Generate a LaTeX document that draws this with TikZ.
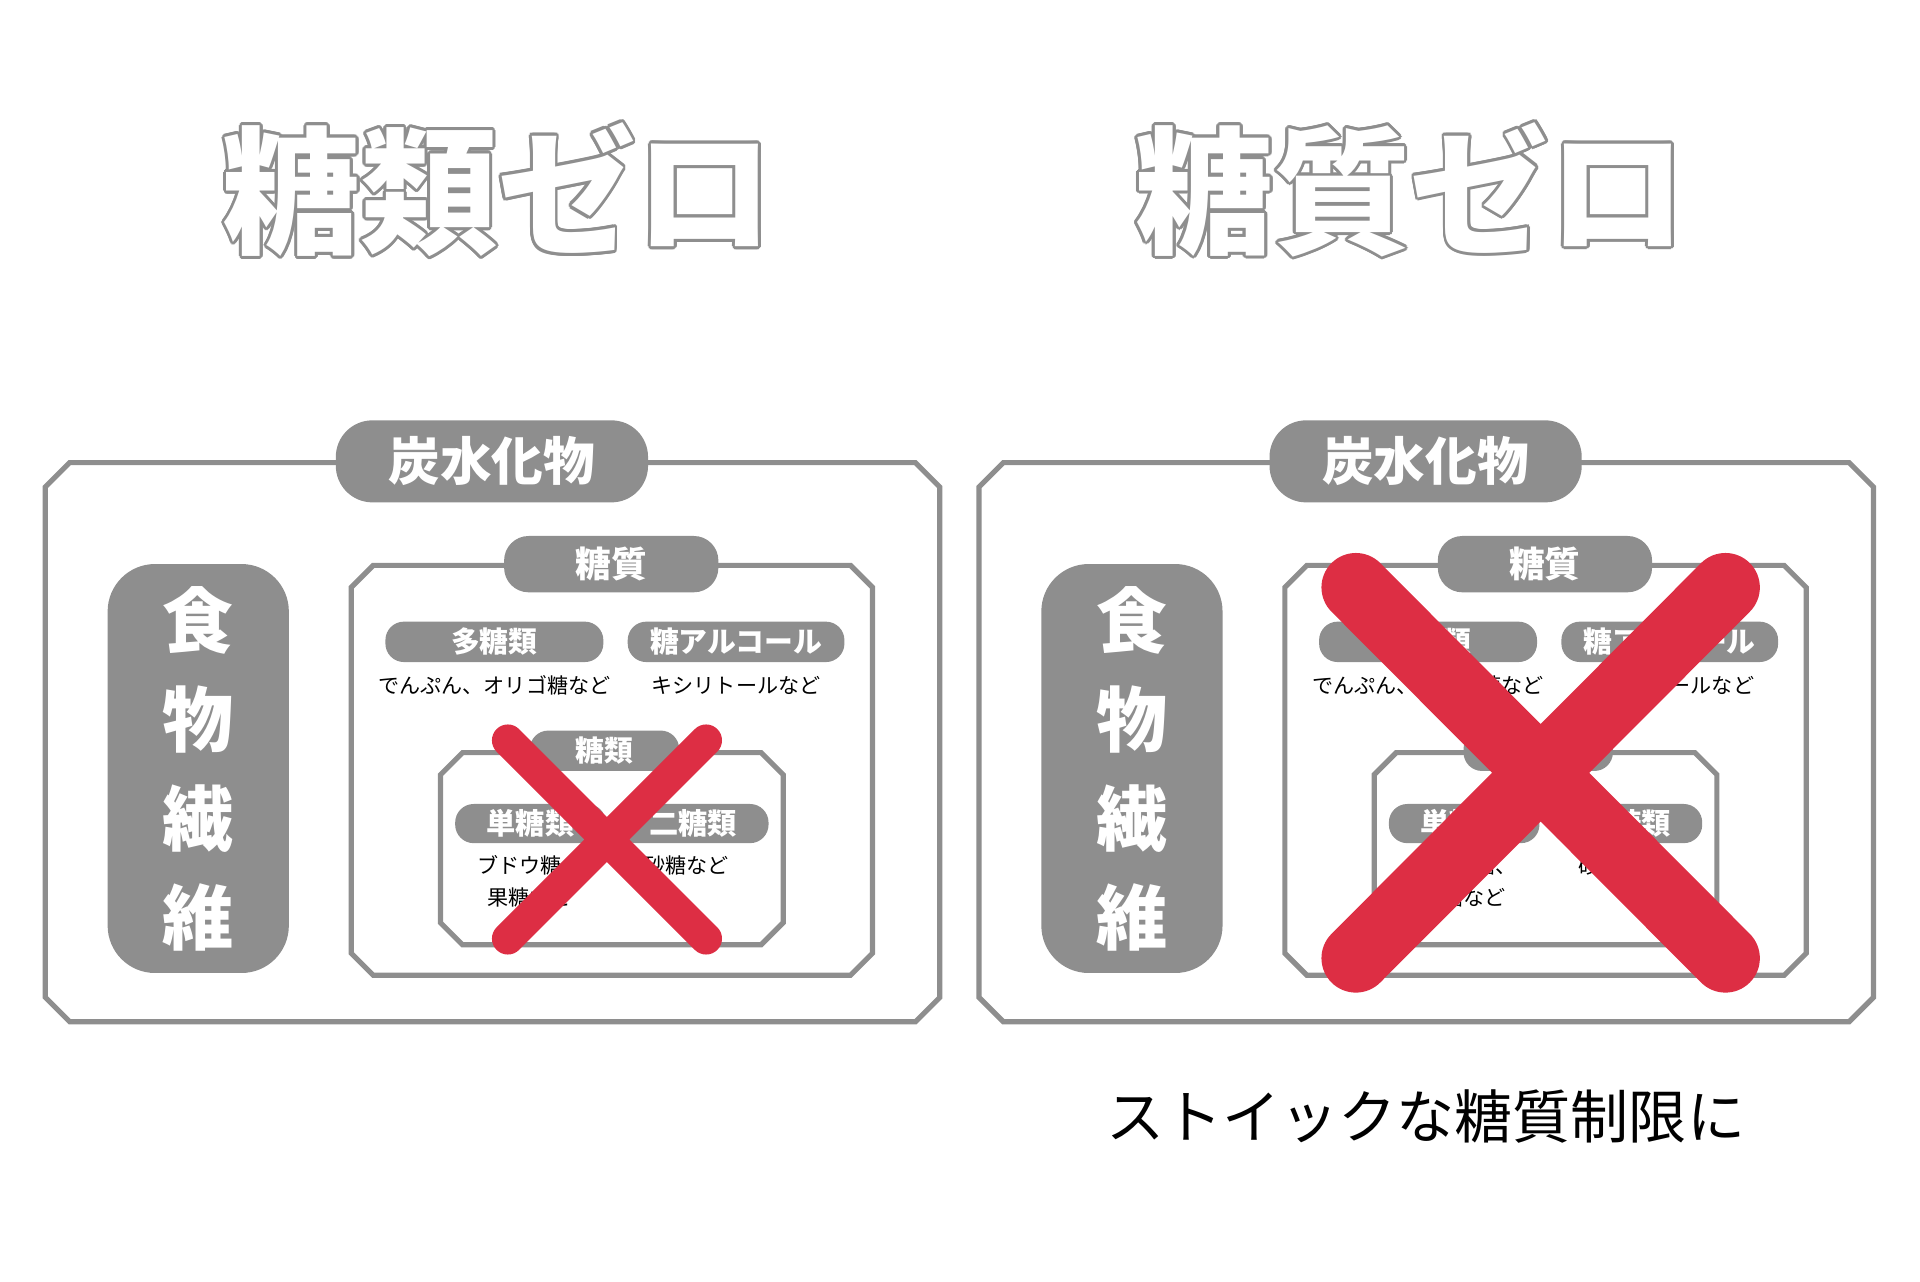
\documentclass[tikz,border=0pt]{standalone}
\usepackage{fontspec}
\newfontfamily\jp{Noto Sans CJK JP}
\usetikzlibrary{calc}

\definecolor{framegray}{RGB}{142,142,142}
\definecolor{crossred}{RGB}{221,46,68}

\tikzset{
  frame/.style={draw=framegray, line width=1.2pt},
  pill/.style={fill=framegray, text=white, inner sep=0pt},
  note/.style={text=black, inner sep=0pt, font=\jp\fontsize{4.9pt}{7.4pt}\selectfont},
  cross/.style={draw=crossred, line cap=round},
  titletext/.style={inner sep=0pt, font=\jp\bfseries\fontsize{32pt}{32pt}\selectfont},
}

\begin{document}
\begin{tikzpicture}[x=0.01cm, y=-0.01cm]
	\newcommand{\outlined}[3]{% name, position, text
		\foreach \a in {0,22.5,...,337.5}
			\node[titletext, text=framegray] at ($(#2)+(\a:2.3)$) {#3};
		\node[titletext, text=white] (#1) at (#2) {#3};
	}
	\useasboundingbox (0,0) rectangle (1569,1047);

	% titles
	\outlined{titleL}{407,155}{糖類ゼロ}
	\outlined{titleR}{1153,155}{糖質ゼロ}

	% the two panels
	\foreach \dx/\s in {0/L,763/R}{
	\begin{scope}[xshift=\dx*0.01cm]
		\draw[frame] (57,378) -- (748,378) -- (768,398) -- (768,815) -- (748,835) -- (57,835) -- (37,815) -- (37,398) -- cycle;
		\node[pill, minimum width=2.55cm, minimum height=0.67cm, rounded corners=8.5pt,
		      font=\jp\bfseries\fontsize{12pt}{12pt}\selectfont] (carb\s) at (402,377) {炭水化物};

		% fibre
		\node[pill, minimum width=1.48cm, minimum height=3.34cm, rounded corners=11pt, align=center,
		      font=\jp\bfseries\fontsize{16.5pt}{23pt}\selectfont] (fibre\s) at (162,628) {食\\物\\繊\\維};

		% sugars
		\draw[frame] (305,462) -- (695,462) -- (713,480) -- (713,779) -- (695,797) -- (305,797) -- (287,779) -- (287,480) -- cycle;
		\node[pill, minimum width=1.75cm, minimum height=0.46cm, rounded corners=5.7pt,
		      font=\jp\bfseries\fontsize{8.3pt}{8.3pt}\selectfont] (sugar\s) at (499.5,461) {糖質};
		\node[pill, minimum width=1.78cm, minimum height=0.33cm, rounded corners=4.3pt,
		      font=\jp\bfseries\fontsize{6.7pt}{6.7pt}\selectfont] (poly\s) at (404,524.5) {多糖類};
		\node[pill, minimum width=1.77cm, minimum height=0.33cm, rounded corners=4.3pt,
		      font=\jp\bfseries\fontsize{6.7pt}{6.7pt}\selectfont] (alc\s) at (601.5,524.5) {糖アルコール};
		\node[note] (polynote\s) at (404,560) {でんぷん、オリゴ糖など};
		\node[note] (alcnote\s) at (601.5,560) {キシリトールなど};

		% sugar types
		\draw[frame] (378,615) -- (622,615) -- (640,633) -- (640,754) -- (622,772) -- (378,772) -- (360,754) -- (360,633) -- cycle;
		\node[pill, minimum width=1.22cm, minimum height=0.33cm, rounded corners=4.3pt,
		      font=\jp\bfseries\fontsize{6.7pt}{6.7pt}\selectfont] (types\s) at (494,613.5) {糖類};
		\node[pill, minimum width=1.23cm, minimum height=0.32cm, rounded corners=4.3pt,
		      font=\jp\bfseries\fontsize{6.8pt}{6.8pt}\selectfont] (mono\s) at (433.5,673) {単糖類};
		\node[pill, minimum width=1.23cm, minimum height=0.32cm, rounded corners=4.3pt,
		      font=\jp\bfseries\fontsize{6.8pt}{6.8pt}\selectfont] (di\s) at (566.5,673) {二糖類};
		\node[note, align=center] (mononote\s) at (433,720) {ブドウ糖、\\果糖など};
		\node[note] (dinote\s) at (561,707) {砂糖など};
	\end{scope}
	}

	% crosses
	\draw[cross, line width=7.4pt] (415,605) -- (577,767) (577,605) -- (415,767);
	\draw[cross, line width=16pt] (1108,480) -- (1410,783) (1410,480) -- (1108,783);

	% caption
	\node[inner sep=0pt, font=\jp\fontsize{13.5pt}{13.5pt}\selectfont] (caption) at (1165,912) {ストイックな糖質制限に};
\end{tikzpicture}
\end{document}
